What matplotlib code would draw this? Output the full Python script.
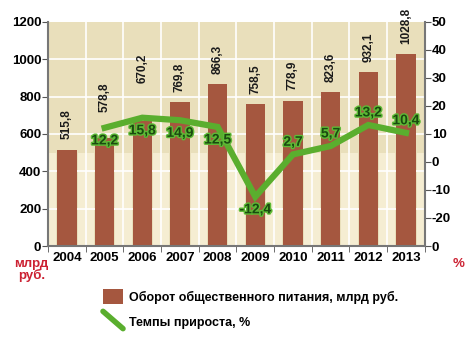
import numpy as np
import matplotlib.pyplot as plt
import matplotlib.patheffects as pe
from matplotlib.lines import Line2D
from matplotlib.patches import Patch
from matplotlib.legend_handler import HandlerLine2D

plt.rcParams['font.family'] = ['Liberation Sans', 'DejaVu Sans']

years = ['2004', '2005', '2006', '2007', '2008', '2009', '2010', '2011', '2012', '2013']
turnover = [515.8, 578.8, 670.2, 769.8, 866.3, 758.5, 778.9, 823.6, 932.1, 1028.8]
turnover_labels = ['515,8', '578,8', '670,2', '769,8', '866,3', '758,5', '778,9', '823,6', '932,1', '1028,8']
growth = [12.2, 15.8, 14.9, 12.5, -12.4, 2.7, 5.7, 13.2, 10.4]
growth_labels = ['12,2', '15,8', '14,9', '12,5', '-12,4', '2,7', '5,7', '13,2', '10,4']
growth_above = [False, False, False, False, False, True, True, True, True]
right_ticks = [-30, -20, -10, 0, 10, 20, 30, 40, 50]
right_tick_labels = ['0', '-20', '-10', '0', '10', '20', '30', '40', '50']

bar_color = '#A5573F'
line_color = '#5AAE2E'
beige = '#E9DFBB'
cream = '#F5EDD2'
red = '#CC2233'


class SlantedLine(HandlerLine2D):
    # legend line drawn as a diagonal stroke
    def create_artists(self, legend, orig_handle, xdescent, ydescent,
                       width, height, fontsize, trans):
        ln = Line2D([-xdescent, width - xdescent], [height * 1.0, -0.2 * height],
                    color=orig_handle.get_color(), lw=orig_handle.get_linewidth(),
                    solid_capstyle='round', transform=trans)
        return [ln]


fig = plt.figure(figsize=(4.72, 3.37), dpi=100)
ax = fig.add_axes([0.102, 0.27, 0.798, 0.665])
ax.set_facecolor(beige)

x = np.arange(len(years))
ax.set_xlim(-0.5, len(years) - 0.5)
ax.set_ylim(0, 1200)

# light bands between the bars, white grid
for i in range(len(years) + 1):
    ax.fill_between([i - 0.72, i - 0.28], 0, 500, color=cream, lw=0, zorder=0.5)
    ax.axvline(i - 0.5, color='white', lw=1.2, zorder=0.7)
for v in range(200, 1200, 200):
    ax.axhline(v, color='white', lw=1.2, zorder=0.7)

ax.bar(x, turnover, width=0.52, color=bar_color, zorder=2)
# labels of 2005 and 2006 are lifted over the green line
lift = {1: 140, 2: 200}
for i, (xi, v, lab) in enumerate(zip(x, turnover, turnover_labels)):
    ax.text(xi, v + lift.get(i, 55), lab, rotation=90, ha='center', va='bottom',
            fontsize=8.5, fontweight='bold', color='#1A1A1A', zorder=3)

ax.set_yticks(range(0, 1201, 200))
ax.set_yticklabels([str(v) for v in range(0, 1201, 200)], fontsize=9.5, fontweight='bold')
ax.set_xticks(x)
ax.set_xticklabels(years, fontsize=9.5, fontweight='bold')
ax.set_xticks(np.arange(-0.5, len(years), 1), minor=True)
ax.tick_params(axis='x', which='major', length=0, pad=4)
ax.tick_params(axis='x', which='minor', length=4, color='#555555')
ax.tick_params(axis='y', length=4, color='#555555', pad=1)
for s in ['top', 'right']:
    ax.spines[s].set_visible(False)
ax.spines['left'].set_color('#777777')
ax.spines['left'].set_linewidth(1.5)
ax.spines['bottom'].set_color('#777777')
ax.spines['bottom'].set_linewidth(1.5)

ax2 = ax.twinx()
ax2.set_ylim(-30, 50)
ax2.plot(x[1:], growth, color=line_color, lw=4.5, solid_joinstyle='miter', zorder=4)
for xi, v, lab, up in zip(x[1:], growth, growth_labels, growth_above):
    off = 2.0 if up else -2.0
    ax2.text(xi, v + off, lab, ha='center', va='bottom' if up else 'top',
             fontsize=10, fontweight='bold', color='#1B4A10', zorder=5,
             path_effects=[pe.withStroke(linewidth=2, foreground='#5DBA35')])
ax2.set_yticks(right_ticks)
ax2.set_yticklabels(right_tick_labels, fontsize=9.5, fontweight='bold')
ax2.tick_params(axis='y', length=4, color='#555555', pad=1)
for s in ['top', 'left', 'bottom']:
    ax2.spines[s].set_visible(False)
ax2.spines['right'].set_color('#777777')
ax2.spines['right'].set_linewidth(1.5)

fig.text(0.067, 0.235, 'млрд\nруб.', ha='center', va='top', color=red,
         fontsize=9.5, fontweight='bold', linespacing=0.95)
fig.text(0.972, 0.235, '%', ha='center', va='top', color=red,
         fontsize=9.5, fontweight='bold')

line_handle = Line2D([0], [0], color=line_color, lw=4)
handles = [Patch(facecolor=bar_color, edgecolor='none'), line_handle]
fig.legend(handles, ['Оборот общественного питания, млрд руб.', 'Темпы прироста, %'],
           loc='upper left', bbox_to_anchor=(0.205, 0.16), frameon=False,
           prop={'size': 9, 'weight': 'bold'}, handlelength=1.6, handleheight=1.4,
           handletextpad=0.5, labelspacing=0.85, borderpad=0,
           handler_map={line_handle: SlantedLine()})

fig.savefig('out.png', dpi=100)
